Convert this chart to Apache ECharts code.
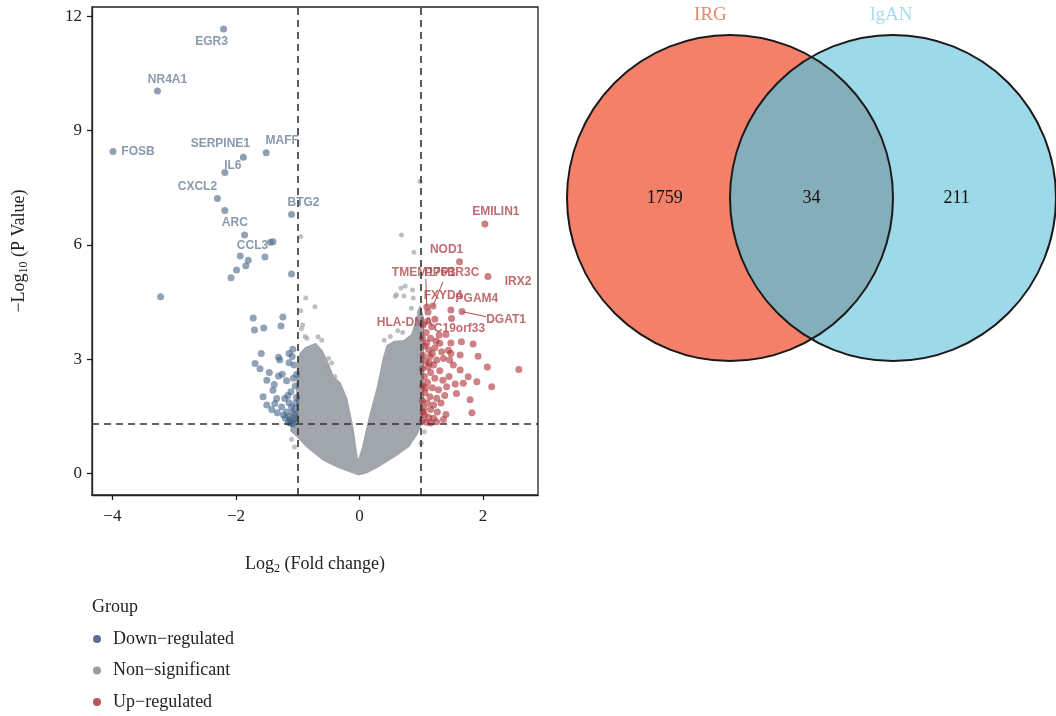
<!DOCTYPE html>
<html><head><meta charset="utf-8">
<script src="https://cdn.jsdelivr.net/npm/echarts@6/dist/echarts.min.js"></script>
<style>html,body{margin:0;padding:0;background:#fff}#c{width:1056px;height:716px}</style>
</head><body><div id="c"></div>
<script>
// ---------- DATA ----------
const xTicks = [-4, -2, 0, 2];
const yTicks = [0, 3, 6, 9, 12];
const fcCutoffs = [-1, 1];
const pCutoff = 1.30;
const groupNames = ['Down−regulated', 'Non−significant', 'Up−regulated'];

// labelled genes [name, log2FC, -log10 P]
const downGenes = [
  ['EGR3', -2.20, 11.66], ['NR4A1', -3.27, 10.04], ['FOSB', -3.99, 8.45],
  ['SERPINE1', -1.88, 8.30], ['MAFF', -1.51, 8.42], ['IL6', -2.18, 7.90],
  ['CXCL2', -2.30, 7.22], ['ARC', -2.18, 6.90], ['BTG2', -1.10, 6.80], ['CCL3', -1.44, 6.07]
];
const upGenes = [
  ['EMILIN1', 2.03, 6.55], ['NOD1', 1.62, 5.56], ['IRX2', 2.08, 5.17],
  ['TMEM176B', 1.09, 4.37], ['PPP1R3C', 1.19, 4.40], ['FXYD4', 1.11, 4.24],
  ['PGAM4', 1.48, 4.29], ['DGAT1', 1.66, 4.25], ['HLA-DMA', 1.22, 4.05], ['C19orf33', 1.49, 4.07]
];

// other down-regulated points [log2FC, -log10 P]
const downPoints = [
  [-1.86,6.26],[-1.40,6.08],[-1.93,5.71],[-1.80,5.60],[-1.53,5.68],[-1.84,5.45],[-1.99,5.34],[-2.08,5.14],
  [-1.10,5.24],[-3.22,4.64],[-1.72,4.08],[-1.24,4.11],[-1.70,3.77],[-1.55,3.82],[-1.27,3.87],[-1.59,3.15],
  [-1.31,3.05],[-1.14,3.15],[-1.08,3.26],[-1.14,2.91],[-1.29,2.98],[-1.69,2.89],[-1.61,2.75],[-1.46,2.65],
  [-1.31,2.56],[-1.25,2.61],[-1.50,2.45],[-1.38,2.34],[-1.18,2.44],[-1.07,2.50],[-1.40,2.19],[-1.11,2.15],
  [-1.56,2.02],[-1.34,1.97],[-1.21,1.97],[-1.50,1.80],[-1.37,1.84],[-1.42,1.68],[-1.26,1.75],[-1.14,1.86],
  [-1.18,1.62],[-1.08,1.60],[-1.14,1.49],[-1.07,1.40],[-1.23,1.54],[-1.12,1.33],[-1.33,1.60],[-1.09,3.07],
  [-1.03,1.45],[-1.05,1.70],[-1.02,2.00],[-1.04,2.30],[-1.02,2.60],[-1.06,2.85],[-1.15,1.35],[-1.20,1.45],
  [-1.10,1.75],[-1.16,2.05],[-1.03,1.85],[-1.08,1.30],[-1.04,1.55],[-1.12,1.42]
];

// other up-regulated points
const upPoints = [
  [1.29,3.64],[1.30,3.42],[1.48,3.43],[1.65,3.46],[1.84,3.40],[1.09,3.43],[1.44,3.24],[1.63,3.11],
  [1.92,3.08],[2.07,2.80],[2.58,2.73],[1.14,3.07],[1.25,2.98],[1.11,2.80],[1.46,2.98],[1.63,2.72],
  [1.76,2.54],[1.90,2.41],[2.14,2.28],[1.68,2.37],[1.79,1.94],[1.82,1.60],[1.36,1.42],[1.57,2.10],
  [1.41,2.28],[1.33,3.20],[1.22,3.30],
  [1.02,3.55],[1.05,3.35],[1.12,3.25],[1.03,3.10],[1.18,3.15],[1.07,2.95],[1.20,2.85],[1.02,2.75],
  [1.15,2.65],[1.30,2.70],[1.05,2.55],[1.22,2.50],[1.10,2.40],[1.35,2.45],[1.02,2.30],[1.18,2.25],
  [1.28,2.20],[1.06,2.12],[1.14,2.02],[1.25,1.98],[1.02,1.92],[1.10,1.85],[1.20,1.80],[1.32,1.85],
  [1.04,1.72],[1.15,1.68],[1.26,1.62],[1.05,1.55],[1.12,1.48],[1.20,1.45],[1.02,1.40],[1.08,1.35],
  [1.15,1.33],[1.25,1.36],[1.40,1.55],[1.38,2.05],[1.45,2.55],[1.52,2.85],[1.55,2.35],[1.08,3.70],
  [1.15,3.55],[1.40,3.65],[1.24,3.48],[1.36,3.02],[1.48,3.15],[1.03,1.62],[1.07,2.25],[1.13,2.90],
  [1.03,3.90],[1.10,4.00],[1.17,3.85]
];

// scattered non-significant points
const nsPoints = [
  [0.98,7.66],[-0.95,6.22],[0.68,6.26],[0.88,5.81],[0.74,4.92],[0.60,4.69],[0.86,4.82],[0.67,4.87],
  [0.72,4.66],[0.58,4.65],[0.87,4.61],[0.84,4.34],[-0.87,4.61],[-0.95,4.27],[-0.72,4.38],[-0.92,3.90],
  [-0.94,3.80],[-0.88,3.60],[-0.67,3.59],[-0.61,3.50],[-0.85,3.55],[-0.50,3.02],[-0.45,2.90],[-0.55,2.75],
  [-0.40,2.55],[0.50,3.60],[0.40,3.50],[0.62,3.75],[0.70,3.70],[0.92,3.80],[0.95,4.05],[-1.10,0.90],
  [-1.05,0.70],[1.05,1.10],[1.00,0.80],[0.97,4.25],[1.00,4.10],[0.95,3.95],[0.98,3.70]
];

// envelope of the dense non-significant cloud [log2FC, -log10 P]
const nsCloud = [
  [-0.02,-0.02],[-0.32,0.16],[-0.59,0.37],[-0.85,0.71],[-1.01,0.99],[-1.11,1.13],[-1.08,1.31],[-1.01,1.49],
  [-1.01,2.09],[-1.00,2.75],[-0.96,3.14],[-0.87,3.30],[-0.71,3.40],[-0.61,3.22],[-0.51,2.88],[-0.43,2.54],
  [-0.32,2.38],[-0.21,1.96],[-0.11,1.18],[-0.03,0.26],[0.05,0.65],[0.16,1.44],[0.29,2.23],[0.39,3.01],
  [0.45,3.35],[0.56,3.46],[0.72,3.48],[0.85,3.64],[0.93,4.06],[0.98,4.37],[1.03,4.06],[1.03,3.01],
  [1.03,1.96],[1.00,1.31],[0.93,1.05],[0.80,0.73],[0.56,0.45],[0.32,0.21],[0.11,0.03]
];

// Venn
const vennSets = ['IRG', 'lgAN'];
const vennCounts = [1759, 34, 211];

// ---------- STYLE (label placement, pixel offsets) ----------
const labelOffsets = {
  EGR3:[-12,13], NR4A1:[10,-11], FOSB:[25,0], SERPINE1:[-23,-14], MAFF:[16,-12], IL6:[8,-7],
  CXCL2:[-20,-12], ARC:[10,12], BTG2:[12,-12], CCL3:[-18,3],
  EMILIN1:[11,-12], NOD1:[-13,-12], IRX2:[30,5], TMEM176B:[-3,-34], PPP1R3C:[19,-33],
  FXYD4:[15,-16], PGAM4:[26,-11], DGAT1:[44,8], 'HLA-DMA':[-30,3], C19orf33:[8,10]
};
const leaderEnds = { TMEM176B:[-1,-28], PPP1R3C:[10,-24], DGAT1:[24,5] };

const SERIF = '"Liberation Serif","DejaVu Serif",serif';
const SANS = '"Liberation Sans",Arial,sans-serif';
const DOWN_C = 'rgba(62,96,132,0.72)';
const UP_C = 'rgba(170,38,44,0.72)';
const NS_C = 'rgba(158,162,170,0.85)';

function genePts(list) {
  return list.map(g => ({ name: g[0], value: [g[1], g[2]] }));
}
function layoutFor(list) {
  return p => { const o = labelOffsets[list[p.dataIndex][0]] || [0, 0]; return { dx: o[0], dy: o[1], hideOverlap: false }; };
}
const fmt = v => (v < 0 ? '−' + Math.abs(v) : String(v));

const chart = echarts.init(document.getElementById('c'), null, { renderer: 'canvas' });

const option = {
  animation: false,
  title: { text: 'Group', left: 92, top: 598, padding: 0,
    textStyle: { fontFamily: SERIF, fontSize: 18, fontWeight: 'normal', color: '#222' } },
  legend: {
    orient: 'vertical', left: 93, top: 630, padding: 0, itemGap: 13.5, itemWidth: 8, itemHeight: 8,
    icon: 'circle', textStyle: { fontFamily: SERIF, fontSize: 18, color: '#222', lineHeight: 18, padding: [0, 0, 0, 7] },
    data: [
      { name: groupNames[0], itemStyle: { color: '#33497a' } },
      { name: groupNames[1], itemStyle: { color: '#9c9c9c' } },
      { name: groupNames[2], itemStyle: { color: '#a52a2e' } }
    ]
  },
  grid: [
    { left: 92, top: 7, width: 446, height: 488, show: true, borderColor: '#222', borderWidth: 1.3, backgroundColor: 'transparent' },
    { left: 567, top: 33, width: 495, height: 330, show: false }
  ],
  xAxis: [
    { type: 'value', gridIndex: 0, min: -4.33, max: 2.89,
      axisLine: { show: true, onZero: false, lineStyle: { color: '#222', width: 1.3 } },
      axisTick: { show: true, customValues: xTicks, length: 5, lineStyle: { color: '#222', width: 1.3 } },
      axisLabel: { customValues: xTicks, formatter: fmt, fontFamily: SERIF, fontSize: 17, color: '#222', margin: 13 },
      splitLine: { show: false },
      name: '{a|Log}{s|2}{a| (Fold change)}', nameLocation: 'middle', nameGap: 58,
      nameTextStyle: { rich: {
        a: { fontFamily: SERIF, fontSize: 18, color: '#222', lineHeight: 22, verticalAlign: 'middle' },
        s: { fontFamily: SERIF, fontSize: 12, color: '#222', lineHeight: 22, verticalAlign: 'bottom' } } }
    },
    { type: 'value', gridIndex: 1, min: -1, max: 2, show: false }
  ],
  yAxis: [
    { type: 'value', gridIndex: 0, min: -0.56, max: 12.24,
      axisLine: { show: true, onZero: false, lineStyle: { color: '#222', width: 1.3 } },
      axisTick: { show: true, customValues: yTicks, length: 5, lineStyle: { color: '#222', width: 1.3 } },
      axisLabel: { customValues: yTicks, formatter: fmt, fontFamily: SERIF, fontSize: 17, color: '#222', margin: 10 },
      splitLine: { show: false },
      name: '{a|−Log}{s|10}{a| (P Value)}', nameLocation: 'middle', nameGap: 62, nameRotate: 90,
      nameTextStyle: { rich: {
        a: { fontFamily: SERIF, fontSize: 18, color: '#222', lineHeight: 22, verticalAlign: 'middle' },
        s: { fontFamily: SERIF, fontSize: 12, color: '#222', lineHeight: 22, verticalAlign: 'bottom' } } }
    },
    { type: 'value', gridIndex: 1, min: -1, max: 1, show: false }
  ],
  series: [
    { // dense cloud of non-significant genes
      type: 'custom', name: groupNames[1], xAxisIndex: 0, yAxisIndex: 0, z: 1, silent: true,
      data: [[0, 0]],
      renderItem: (params, api) => ({
        type: 'polygon',
        shape: { points: nsCloud.map(p => api.coord(p)) },
        style: { fill: '#a1a5ac', stroke: '#a1a5ac', lineWidth: 2, lineJoin: 'round' }
      })
    },
    { type: 'scatter', name: groupNames[1], xAxisIndex: 0, yAxisIndex: 0, z: 2, symbolSize: 5,
      itemStyle: { color: NS_C }, data: nsPoints },
    { type: 'scatter', name: groupNames[0], xAxisIndex: 0, yAxisIndex: 0, z: 3, symbolSize: 7,
      itemStyle: { color: DOWN_C }, data: downPoints },
    { type: 'scatter', name: groupNames[2], xAxisIndex: 0, yAxisIndex: 0, z: 3, symbolSize: 7,
      itemStyle: { color: UP_C }, data: upPoints },
    { type: 'scatter', name: groupNames[0], xAxisIndex: 0, yAxisIndex: 0, z: 4, symbolSize: 7,
      itemStyle: { color: 'rgba(92,116,142,0.85)' }, data: genePts(downGenes),
      label: { show: true, position: 'inside', formatter: p => p.name,
        fontFamily: SANS, fontSize: 12, fontWeight: 'bold', color: '#6c8198' },
      labelLayout: layoutFor(downGenes) },
    { type: 'scatter', name: groupNames[2], xAxisIndex: 0, yAxisIndex: 0, z: 4, symbolSize: 7,
      itemStyle: { color: 'rgba(178,70,76,0.85)' }, data: genePts(upGenes),
      label: { show: true, position: 'inside', formatter: p => p.name,
        fontFamily: SANS, fontSize: 12, fontWeight: 'bold', color: '#b0474e' },
      labelLayout: layoutFor(upGenes) },
    { // leader lines for repelled labels
      type: 'custom', name: 'leaders', xAxisIndex: 0, yAxisIndex: 0, z: 5, silent: true,
      data: upGenes.filter(g => leaderEnds[g[0]]).map(g => ({ name: g[0], value: [g[1], g[2]] })),
      renderItem: (params, api) => {
        const p = api.coord([api.value(0), api.value(1)]);
        const nm = upGenes.filter(g => leaderEnds[g[0]])[params.dataIndex][0];
        const e = leaderEnds[nm];
        return { type: 'line', shape: { x1: p[0], y1: p[1], x2: p[0] + e[0], y2: p[1] + e[1] },
          style: { stroke: '#b0474e', lineWidth: 1 } };
      }
    },
    { // cut-off lines
      type: 'scatter', name: 'cutoffs', xAxisIndex: 0, yAxisIndex: 0, z: 6, data: [],
      markLine: { silent: true, symbol: 'none', label: { show: false }, animation: false,
        lineStyle: { color: '#333', type: [7, 5], width: 1.6 },
        data: [{ xAxis: fcCutoffs[0] }, { xAxis: fcCutoffs[1] }, { yAxis: pCutoff }] }
    },
    { // Venn diagram
      type: 'custom', name: 'venn', xAxisIndex: 1, yAxisIndex: 1, silent: true, z: 2,
      data: [[0, 0]],
      renderItem: (params, api) => {
        const c1 = api.coord([0, 0]), c2 = api.coord([1, 0]);
        const r = api.size([1, 0])[0];
        const d = c2[0] - c1[0];
        const th = Math.acos((d / 2) / r);
        const lens = [];
        const N = 80;
        for (let i = 0; i <= N; i++) { const a = -th + 2 * th * i / N; lens.push([c1[0] + r * Math.cos(a), c1[1] + r * Math.sin(a)]); }
        for (let i = 0; i <= N; i++) { const a = Math.PI - th + 2 * th * i / N; lens.push([c2[0] + r * Math.cos(a), c2[1] + r * Math.sin(a)]); }
        const t = (txt, pos, color, size) => {
          const q = api.coord(pos);
          return { type: 'text', style: { text: txt, x: q[0], y: q[1], fill: color, align: 'center', verticalAlign: 'middle',
            font: size + 'px ' + SERIF } };
        };
        return { type: 'group', children: [
          { type: 'circle', shape: { cx: c1[0], cy: c1[1], r: r }, style: { fill: '#f4806a' } },
          { type: 'circle', shape: { cx: c2[0], cy: c2[1], r: r }, style: { fill: '#9dd9e9' } },
          { type: 'polygon', shape: { points: lens }, style: { fill: '#85aebb' } },
          { type: 'circle', shape: { cx: c1[0], cy: c1[1], r: r }, style: { fill: null, stroke: '#1a1a1a', lineWidth: 2 } },
          { type: 'circle', shape: { cx: c2[0], cy: c2[1], r: r }, style: { fill: null, stroke: '#1a1a1a', lineWidth: 2 } },
          t(vennSets[0], [-0.12, 1.11], '#f4836c', 19),
          t(vennSets[1], [0.99, 1.11], '#a5dbe9', 19),
          t(String(vennCounts[0]), [-0.40, 0], '#111', 18),
          t(String(vennCounts[1]), [0.50, 0], '#111', 18),
          t(String(vennCounts[2]), [1.39, 0], '#111', 18)
        ] };
      }
    }
  ]
};
chart.setOption(option);
</script>
</body></html>
